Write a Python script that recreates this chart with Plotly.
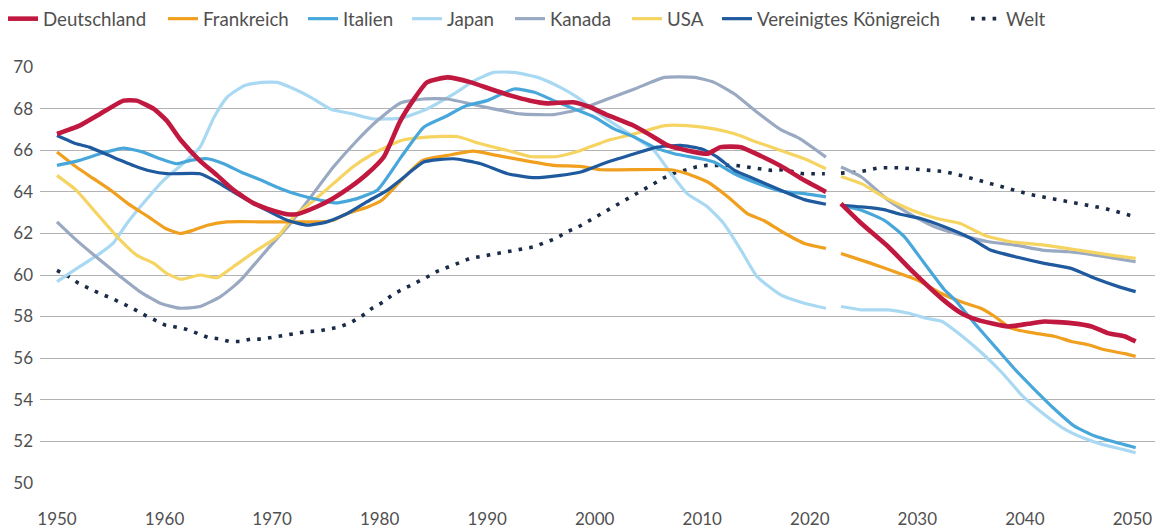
import plotly.graph_objects as go

# ---------------- data ----------------
de_hist_x = [1950, 1952.1, 1954, 1956.2, 1957.4, 1959, 1960.2, 1961.5, 1963.3, 1964.9, 1966.4, 1968.3,
             1970.1, 1971.4, 1972.3, 1974.2, 1975.7, 1977.3, 1978.9, 1980.4, 1981.9, 1983.1, 1984.4,
             1986.3, 1988.5, 1990.3, 1992.2, 1994, 1995.6, 1998, 1999.6, 2001.2, 2003.6, 2005.5,
             2006.8, 2008.6, 2010.5, 2011.7, 2013.6, 2015.5, 2017.3, 2019.5, 2021.5]
de_hist_y = [66.8, 67.2, 67.76, 68.4, 68.4, 68.0, 67.44, 66.5, 65.5, 64.8, 64.1, 63.45,
             63.1, 62.93, 62.93, 63.3, 63.7, 64.24, 64.9, 65.7, 67.4, 68.4, 69.28,
             69.52, 69.28, 68.96, 68.64, 68.4, 68.27, 68.32, 68.08, 67.7, 67.2, 66.64,
             66.24, 66.0, 65.84, 66.16, 66.16, 65.72, 65.25, 64.56, 64.0]
de_proj_x = [2022.9, 2024.8, 2027.3, 2029.7, 2032.3, 2034.1, 2035.6, 2038.4, 2040.3, 2041.8,
             2044.3, 2046.2, 2047.7, 2049.3, 2050.3]
de_proj_y = [63.44, 62.48, 61.36, 60.1, 58.85, 58.16, 57.84, 57.52, 57.65, 57.76,
             57.68, 57.52, 57.2, 57.04, 56.8]

fr_hist_x = [1950, 1951.8, 1953.4, 1955, 1956.6, 1958.5, 1960.1, 1961.5, 1962.7, 1964, 1965.8,
             1969.5, 1972.6, 1974.5, 1975.7, 1977, 1978.9, 1980.2, 1982, 1984, 1986.3, 1988.7,
             1990.9, 1993.4, 1996.2, 1998.7, 2000.6, 2007.1, 2008.6, 2010.5, 2012.4, 2014.2,
             2015.8, 2017.3, 2019.5, 2021.5]
fr_hist_y = [65.92, 65.2, 64.64, 64.08, 63.44, 62.8, 62.24, 62.0, 62.16, 62.4, 62.56,
             62.56, 62.56, 62.56, 62.64, 62.96, 63.28, 63.6, 64.56, 65.52, 65.76, 65.97,
             65.76, 65.52, 65.28, 65.23, 65.07, 65.07, 64.88, 64.48, 63.76, 62.96,
             62.6, 62.12, 61.52, 61.28]
fr_proj_x = [2022.9, 2025.7, 2027.9, 2030, 2032.2, 2034, 2035.9, 2037.2, 2038.7, 2040.9,
             2042.8, 2044.3, 2045.9, 2047.4, 2049.3, 2050.3]
fr_proj_y = [61.04, 60.56, 60.16, 59.76, 59.12, 58.72, 58.4, 58.0, 57.44, 57.2,
             57.04, 56.8, 56.64, 56.4, 56.21, 56.08]

it_hist_x = [1950, 1952.1, 1954, 1956.2, 1958, 1959.6, 1961.1, 1962.4, 1964, 1965.5, 1967.1,
             1969, 1970.8, 1972.6, 1974.5, 1976, 1977.9, 1979.8, 1982, 1984.1, 1986, 1988.1,
             1990, 1992.5, 1994.4, 1996.2, 1998.1, 2000, 2001.8, 2003.7, 2005.5, 2007.4,
             2009.9, 2011.1, 2013, 2014.8, 2017.3, 2019.5, 2021.5]
it_hist_y = [65.28, 65.52, 65.84, 66.11, 65.92, 65.6, 65.36, 65.52, 65.6, 65.36, 64.96,
             64.56, 64.16, 63.84, 63.6, 63.47, 63.68, 64.1, 65.68, 67.12, 67.6, 68.16,
             68.4, 68.96, 68.8, 68.4, 68.0, 67.6, 67.04, 66.64, 66.16, 65.84,
             65.6, 65.44, 64.88, 64.48, 64.04, 63.92, 63.76]
it_proj_x = [2022.9, 2024.8, 2026.9, 2028.8, 2030.6, 2032.5, 2033.5, 2035.3, 2037.2, 2039.1,
             2040.9, 2042.8, 2044.6, 2046.5, 2048, 2050.3]
it_proj_y = [63.36, 63.12, 62.64, 61.84, 60.6, 59.3, 58.8, 57.68, 56.56, 55.44,
             54.48, 53.52, 52.72, 52.24, 52.0, 51.68]

jp_hist_x = [1950, 1952.1, 1954, 1955.2, 1956.5, 1958, 1959.9, 1961.7, 1963.3, 1964.6, 1965.8,
             1967.4, 1969, 1970.5, 1971.7, 1973.6, 1975.4, 1977.5, 1979.4, 1982, 1984.4,
             1986.9, 1988.8, 1990.6, 1992.5, 1994.7, 1996.8, 1998.4, 2000, 2001.8, 2003.7,
             2005.5, 2007.1, 2008.6, 2010.5, 2012, 2013.6, 2015.1, 2017.3, 2019.5, 2021.5]
jp_hist_y = [59.68, 60.4, 61.04, 61.52, 62.48, 63.44, 64.56, 65.36, 66.16, 67.6, 68.56,
             69.12, 69.28, 69.28, 69.04, 68.56, 68.0, 67.76, 67.52, 67.56, 68.0,
             68.72, 69.36, 69.76, 69.76, 69.52, 69.04, 68.56, 67.92, 67.28, 66.64,
             66.0, 64.88, 63.92, 63.28, 62.48, 61.2, 59.92, 59.04, 58.64, 58.4]
jp_proj_x = [2022.9, 2024.8, 2027.3, 2029.2, 2030.8, 2032.3, 2034.2, 2036, 2037.9, 2039.8,
             2041.6, 2043.5, 2045.4, 2047.2, 2049.1, 2050.3]
jp_proj_y = [58.48, 58.32, 58.32, 58.16, 57.92, 57.76, 57.04, 56.24, 55.28, 54.16,
             53.36, 52.64, 52.16, 51.84, 51.6, 51.44]

ca_hist_x = [1950, 1951.8, 1954, 1955.9, 1957.7, 1959.6, 1961.4, 1963.3, 1965.2, 1966.4, 1967.1,
             1969.5, 1971.7, 1973.6, 1975.7, 1977.9, 1979.8, 1982, 1984.1, 1986.3, 1988.5,
             1990.6, 1993.1, 1996.2, 1998.7, 2001.2, 2003.7, 2006.5, 2009.3, 2011.1, 2013,
             2015.1, 2017.3, 2019.1, 2021.5]
ca_hist_y = [62.56, 61.68, 60.72, 59.92, 59.2, 58.64, 58.4, 58.48, 58.96, 59.44, 59.76,
             61.2, 62.48, 63.76, 65.2, 66.48, 67.44, 68.3, 68.48, 68.48, 68.24,
             68.0, 67.76, 67.73, 68.0, 68.48, 68.96, 69.52, 69.52, 69.28, 68.72,
             67.84, 67.0, 66.56, 65.68]
ca_proj_x = [2022.9, 2024.8, 2027.3, 2029.5, 2031.6, 2034.1, 2036.6, 2039.1, 2041.6, 2044.1,
             2046.5, 2048.4, 2050.3]
ca_proj_y = [65.2, 64.72, 63.6, 62.88, 62.32, 61.92, 61.6, 61.44, 61.2, 61.12,
             60.96, 60.8, 60.64]

us_hist_x = [1950, 1951.8, 1953.7, 1955.6, 1957.4, 1959, 1960.2, 1961.5, 1963.3, 1964.9, 1966.4,
             1968.6, 1970.5, 1972, 1973.9, 1975.7, 1977.5, 1979.4, 1982, 1984.4, 1987.2,
             1989.4, 1991.9, 1994, 1996.5, 1998.7, 2001.2, 2003.7, 2006.5, 2008.6, 2011.1,
             2013, 2015.1, 2017.3, 2019.5, 2021.5]
us_hist_y = [64.8, 64.08, 62.96, 61.84, 60.96, 60.56, 60.08, 59.8, 60.0, 59.87, 60.4,
             61.2, 61.84, 62.8, 63.6, 64.4, 65.2, 65.84, 66.48, 66.64, 66.67,
             66.32, 66.0, 65.71, 65.71, 66.0, 66.48, 66.8, 67.2, 67.2, 67.04,
             66.8, 66.4, 66.0, 65.6, 65.12]
us_proj_x = [2022.9, 2024.8, 2026.9, 2029.5, 2031.8, 2034, 2036.2, 2038.7, 2041.8, 2045,
             2048, 2050.3]
us_proj_y = [64.75, 64.4, 63.76, 63.12, 62.72, 62.48, 61.92, 61.6, 61.44, 61.2,
             60.96, 60.8]

uk_hist_x = [1950, 1951.8, 1953, 1955.2, 1957.1, 1958.7, 1960.2, 1963.3, 1964.9, 1966.4, 1968,
             1969.8, 1971.4, 1973.3, 1975.1, 1977, 1978.8, 1980.7, 1982, 1984.1, 1986.9,
             1989.4, 1991.9, 1994.4, 1996.8, 1998.7, 2001.2, 2003.7, 2005.8, 2008, 2009.9,
             2011.4, 2013, 2014.8, 2017.3, 2019.5, 2021.5]
uk_hist_y = [66.72, 66.32, 66.16, 65.68, 65.28, 65.01, 64.88, 64.88, 64.48, 64.0, 63.52,
             63.04, 62.64, 62.4, 62.56, 62.96, 63.52, 64.08, 64.6, 65.44, 65.6,
             65.36, 64.88, 64.69, 64.8, 64.96, 65.44, 65.84, 66.16, 66.24, 66.08,
             65.68, 65.04, 64.64, 64.08, 63.63, 63.41]
uk_proj_x = [2022.9, 2024.8, 2026.9, 2028.4, 2030.3, 2032.5, 2035, 2036.8, 2039.1, 2041.8,
             2044.3, 2046.5, 2048.7, 2050.3]
uk_proj_y = [63.36, 63.28, 63.15, 62.93, 62.72, 62.32, 61.76, 61.2, 60.88, 60.56,
             60.32, 59.84, 59.44, 59.2]

wo_hist_x = [1950, 1951, 1952, 1953, 1954, 1955, 1956, 1957, 1958, 1959, 1960, 1961, 1962, 1963,
             1964, 1965, 1966, 1967, 1968, 1969, 1970.6, 1972, 1973.3, 1974.3, 1975.3, 1976.3,
             1977.3, 1978.3, 1979.3, 1980.3, 1981.3, 1982.2, 1983.3, 1984.3, 1985.4, 1986.4,
             1987.4, 1988.4, 1989.5, 1990.8, 1992, 1993.1, 1994.4, 1995.3, 1996.4, 1997.4,
             1998.4, 1999.4, 2000.4, 2001.4, 2002.4, 2003.4, 2004.4, 2005.4, 2006.4, 2007.4,
             2009.4, 2010.4, 2013.1, 2014.2, 2016.4, 2017.5, 2019.4, 2021.4]
wo_hist_y = [60.22, 59.95, 59.6, 59.35, 59.1, 58.9, 58.67, 58.4, 58.11, 57.85, 57.6, 57.5, 57.39,
             57.2, 57.0, 56.93, 56.8, 56.8, 56.91, 56.91, 57.04, 57.17, 57.28, 57.3, 57.39, 57.5,
             57.71, 58.0, 58.4, 58.69, 59.09, 59.31, 59.6, 59.87, 60.19, 60.37,
             60.59, 60.8, 60.91, 61.04, 61.12, 61.25, 61.36, 61.55, 61.76, 62.08,
             62.29, 62.59, 62.88, 63.2, 63.47, 63.79, 64.08, 64.37, 64.67, 64.91,
             65.2, 65.28, 65.28, 65.2, 65.04, 65.07, 64.88, 64.88]
wo_proj_x = [2022.9, 2024.5, 2026.5, 2028.4, 2030.4, 2032.5, 2034.4, 2036.4, 2038.4, 2040.4,
             2042.8, 2045.2, 2047.5, 2049.5, 2050.3]
wo_proj_y = [64.91, 64.96, 65.17, 65.17, 65.07, 64.99, 64.75, 64.45, 64.19, 63.89,
             63.65, 63.42, 63.2, 62.91, 62.8]

series_names = ["Deutschland", "Frankreich", "Italien", "Japan", "Kanada", "USA",
                "Vereinigtes Königreich", "Welt"]
x_ticks = [1950, 1960, 1970, 1980, 1990, 2000, 2010, 2020, 2030, 2040, 2050]
y_ticks = [50, 52, 54, 56, 58, 60, 62, 64, 66, 68, 70]

# ---------------- styling ----------------
colors = ["#C0183F", "#F0A01E", "#48A7DA", "#A9D9F2", "#9AA9C2", "#F5D462", "#1F5A9E", "#1A2B47"]
widths = [4.6, 3.2, 3.2, 3.2, 3.2, 3.2, 3.2, 3.6]
# left edge (px) of each legend entry in the top band
legend_px = [3, 163, 303, 407, 510, 627, 717, 966]

data = [
    (de_hist_x, de_hist_y, de_proj_x, de_proj_y),
    (fr_hist_x, fr_hist_y, fr_proj_x, fr_proj_y),
    (it_hist_x, it_hist_y, it_proj_x, it_proj_y),
    (jp_hist_x, jp_hist_y, jp_proj_x, jp_proj_y),
    (ca_hist_x, ca_hist_y, ca_proj_x, ca_proj_y),
    (us_hist_x, us_hist_y, us_proj_x, us_proj_y),
    (uk_hist_x, uk_hist_y, uk_proj_x, uk_proj_y),
    (wo_hist_x, wo_hist_y, wo_proj_x, wo_proj_y),
]

W, H = 1158, 530
font_family = "Lato, 'Open Sans', sans-serif"

fig = go.Figure()
# draw order: Welt at back, Deutschland on top
order = [7, 3, 4, 5, 1, 2, 6, 0]
for i in order:
    hx, hy, px, py = data[i]
    x = list(hx) + [None] + list(px)
    y = list(hy) + [None] + list(py)
    line = dict(color=colors[i], width=widths[i], shape="spline", smoothing=0.5)
    if series_names[i] == "Welt":
        line = dict(color=colors[i], width=widths[i], dash="3.6px,7.2px")
    fig.add_trace(go.Scatter(
        x=x, y=y, mode="lines", name=series_names[i], line=line,
        connectgaps=False, hoverinfo="skip",
        legend="legend" if i == 0 else f"legend{i + 1}",
    ))

legends = {}
for i in range(8):
    key = "legend" if i == 0 else f"legend{i + 1}"
    legends[key] = dict(
        orientation="h", xref="container", yref="container",
        x=legend_px[i] / W, y=1.0, xanchor="left", yanchor="top",
        font=dict(size=18.7, color="#505050", family=font_family),
        itemwidth=30, bgcolor="rgba(0,0,0,0)",
    )

fig.update_layout(
    width=W, height=H,
    margin=dict(l=40, r=3, t=67, b=47, autoexpand=False),
    paper_bgcolor="white", plot_bgcolor="white",
    font=dict(family=font_family, color="#505050", size=17),
    showlegend=True,
    xaxis=dict(
        range=[1948.42, 2052.1], tickvals=x_ticks, showgrid=False, zeroline=False,
        showline=False, ticks="", ticklabelstandoff=24, automargin=False,
        tickfont=dict(size=17, color="#505050"),
    ),
    yaxis=dict(
        range=[49.98, 70.02], tickvals=y_ticks, showgrid=True, gridcolor="#B3B3B3",
        gridwidth=1, zeroline=False, showline=False, ticks="", ticklabelstandoff=6,
        automargin=False, tickfont=dict(size=17, color="#505050"),
    ),
    **legends,
)

fig.write_html(
    "out.html",
    config={"displayModeBar": False},
    post_script="document.body.style.margin='0px';document.body.style.padding='0px';"
                "document.body.style.overflow='hidden';",
)
